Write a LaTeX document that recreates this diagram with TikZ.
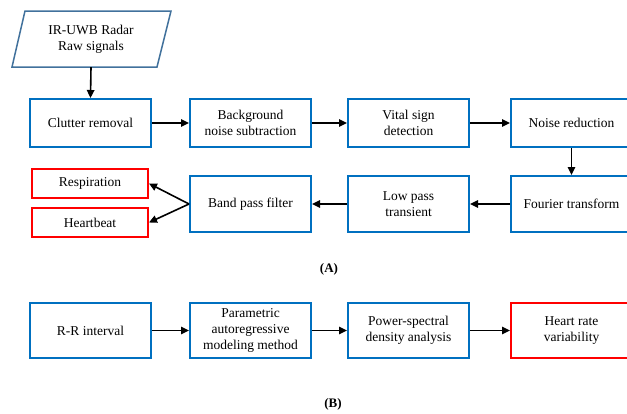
\documentclass[tikz,border=0pt]{standalone}
\usepackage{fontspec}
\setmainfont{Liberation Serif}
\usetikzlibrary{arrows.meta}
\definecolor{boxblue}{RGB}{0,112,192}
\definecolor{parblue}{RGB}{65,113,156}
\definecolor{boxred}{RGB}{255,0,0}
\tikzset{
  stepbox/.style={draw=boxblue, line width=2pt, fill=white, minimum width=121pt, align=center, font=\fontsize{13.5}{16}\selectfont, inner sep=2pt},
  outbox/.style={draw=boxred, line width=2pt, fill=white, minimum width=121pt, align=center, font=\fontsize{13.5}{16}\selectfont, inner sep=2pt},
  arr/.style={line width=1.6pt, -{Triangle[length=8pt,width=7.5pt]}},
  lbl/.style={font=\fontsize{13}{15}\selectfont\bfseries}
}
\begin{document}
\begin{tikzpicture}[x=1pt,y=-1pt]
\useasboundingbox (0,0) rectangle (627,413);
% parallelogram input
\draw[parblue, line width=1.5pt] (25,11) -- (171,11) -- (157,67) -- (12,67) -- cycle;
\node[align=center, minimum height=56pt, font=\fontsize{13.5}{16}\selectfont] (raw) at (91,39) {IR-UWB Radar\\Raw signals};
% row 1
\node[stepbox, minimum height=48pt] (clutter) at (90.5,123) {Clutter removal};
\node[stepbox, minimum height=48pt] (bg) at (250.5,123) {Background\\noise subtraction};
\node[stepbox, minimum height=48pt] (vital) at (408.5,123) {Vital sign\\detection};
\node[stepbox, minimum height=48pt] (noise) at (571.5,123) {Noise reduction};
% row 2
\node[stepbox, minimum height=56pt] (fourier) at (571.5,204) {Fourier transform};
\node[stepbox, minimum height=56pt] (lowpass) at (408.5,204) {Low pass\\transient};
\node[stepbox, minimum height=56pt] (band) at (250.5,204) {Band pass filter};
\node[outbox, minimum width=116pt, minimum height=29pt] (resp) at (90,183.5) {Respiration};
\node[outbox, minimum width=116pt, minimum height=29pt] (heart) at (90,222.5) {Heartbeat};
\node[lbl] (labA) at (329,269) {(A)};
% row B
\node[stepbox, minimum height=55pt] (rr) at (90.5,330.5) {R-R interval};
\node[stepbox, minimum height=55pt] (param) at (250.5,330.5) {Parametric\\autoregressive\\modeling method};
\node[stepbox, minimum height=55pt] (psd) at (408.5,330.5) {Power-spectral\\density analysis};
\node[outbox, minimum height=55pt] (hrv) at (571.5,330.5) {Heart rate\\variability};
\node[lbl] (labB) at (333,404) {(B)};
% connectors
\draw[arr] (raw.south) -- (clutter.north);
\draw[arr] (clutter) -- (bg);
\draw[arr] (bg) -- (vital);
\draw[arr] (vital) -- (noise);
\draw[arr] (noise) -- (fourier);
\draw[arr] (fourier) -- (lowpass);
\draw[arr] (lowpass) -- (band);
\draw[arr] (band.west) -- (resp.east);
\draw[arr] (band.west) -- (heart.east);
\draw[arr] (rr) -- (param);
\draw[arr] (param) -- (psd);
\draw[arr] (psd) -- (hrv);
\end{tikzpicture}
\end{document}
